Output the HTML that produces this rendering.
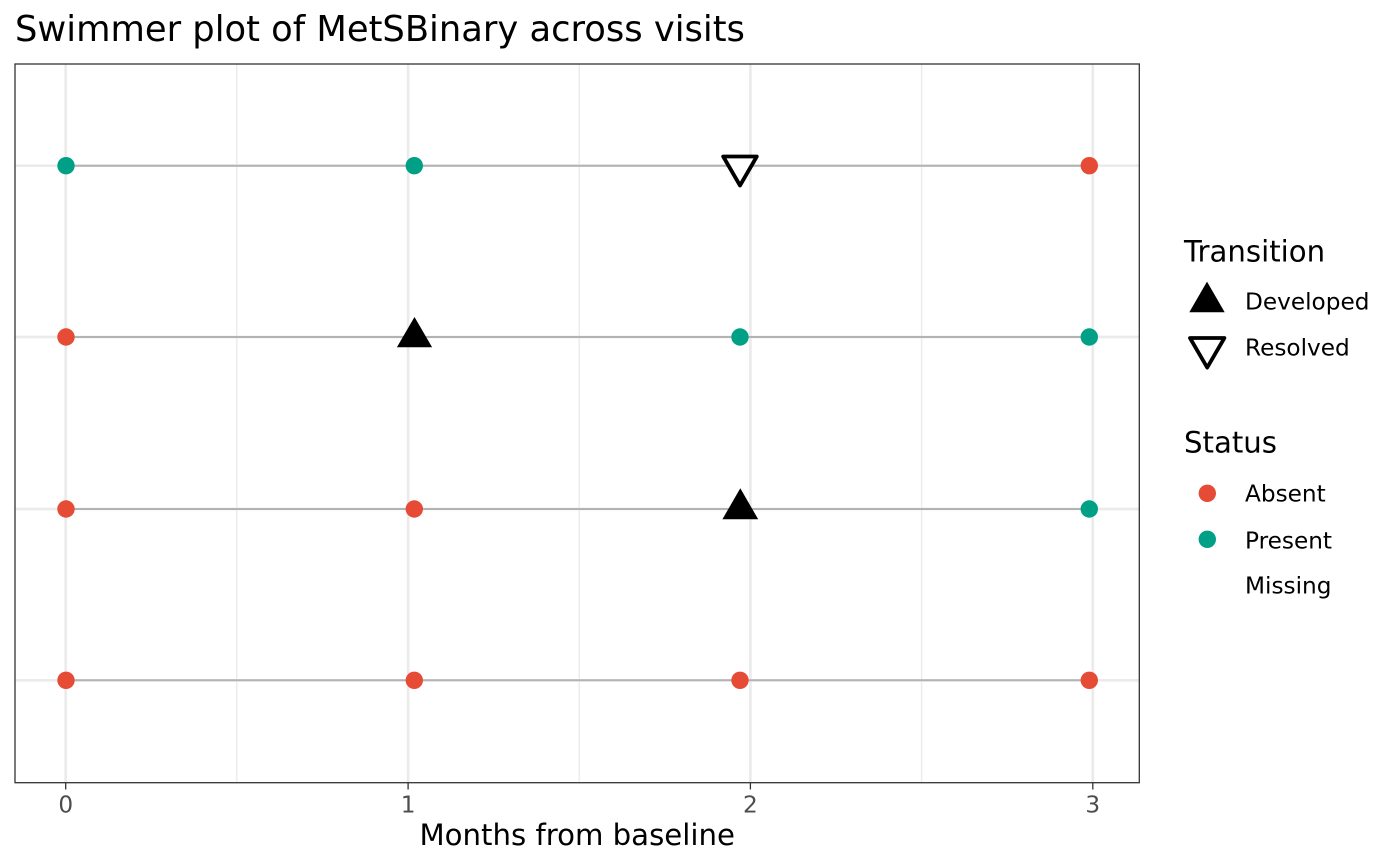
<!DOCTYPE html>
<html>
<head>
<meta charset="utf-8">
<style>
  html, body { margin: 0; padding: 0; background: #ffffff; }
  svg { display: block; }
  text { font-family: "DejaVu Sans", "Liberation Sans", sans-serif; }
</style>
</head>
<body>
<svg width="1400" height="866" viewBox="0 0 1400 866" xmlns="http://www.w3.org/2000/svg">
  <rect x="0" y="0" width="1400" height="866" fill="#ffffff"/>

  <!-- Title -->
  <text x="15" y="41" font-size="35.3" fill="#000000">Swimmer plot of MetSBinary across visits</text>

  <!-- Panel background -->
  <rect x="15" y="64" width="1124.3" height="718.7" fill="#ffffff"/>

  <!-- Minor vertical gridlines -->
  <g stroke="#EBEBEB" stroke-width="1.4">
    <line x1="236.8" y1="64" x2="236.8" y2="782.7"/>
    <line x1="579.2" y1="64" x2="579.2" y2="782.7"/>
    <line x1="921.6" y1="64" x2="921.6" y2="782.7"/>
  </g>
  <!-- Major gridlines -->
  <g stroke="#EBEBEB" stroke-width="2.7">
    <line x1="65.7" y1="64" x2="65.7" y2="782.7"/>
    <line x1="408.1" y1="64" x2="408.1" y2="782.7"/>
    <line x1="750.4" y1="64" x2="750.4" y2="782.7"/>
    <line x1="1092.8" y1="64" x2="1092.8" y2="782.7"/>
    <line x1="15" y1="165.7" x2="1139.3" y2="165.7"/>
    <line x1="15" y1="337" x2="1139.3" y2="337"/>
    <line x1="15" y1="509" x2="1139.3" y2="509"/>
    <line x1="15" y1="680.3" x2="1139.3" y2="680.3"/>
  </g>

  <!-- Swim lines -->
  <g stroke="#B3B3B3" stroke-width="2">
    <line x1="66" y1="165.7" x2="1089.3" y2="165.7"/>
    <line x1="66" y1="337" x2="1089.3" y2="337"/>
    <line x1="66" y1="509" x2="1089.3" y2="509"/>
    <line x1="66" y1="680.3" x2="1089.3" y2="680.3"/>
  </g>

  <!-- Row 1 -->
  <circle cx="66" cy="165.7" r="8.7" fill="#00A087"/>
  <circle cx="414.3" cy="165.7" r="8.7" fill="#00A087"/>
  <polygon points="723.2,156.5 756.8,156.5 740,185.5" fill="#ffffff" stroke="#000000" stroke-width="3.8" stroke-linejoin="round"/>
  <circle cx="1089.3" cy="165.7" r="8.7" fill="#E64B35"/>

  <!-- Row 2 -->
  <circle cx="66" cy="337" r="8.7" fill="#E64B35"/>
  <polygon points="414.5,317 396.9,347.3 432.1,347.3" fill="#000000"/>
  <circle cx="740" cy="337" r="8.7" fill="#00A087"/>
  <circle cx="1089.3" cy="337" r="8.7" fill="#00A087"/>

  <!-- Row 3 -->
  <circle cx="66" cy="509" r="8.7" fill="#E64B35"/>
  <circle cx="414.3" cy="509" r="8.7" fill="#E64B35"/>
  <polygon points="740.3,488.3 722.4,519.3 758.2,519.3" fill="#000000"/>
  <circle cx="1089.3" cy="509" r="8.7" fill="#00A087"/>

  <!-- Row 4 -->
  <circle cx="66" cy="680.3" r="8.7" fill="#E64B35"/>
  <circle cx="414.3" cy="680.3" r="8.7" fill="#E64B35"/>
  <circle cx="740" cy="680.3" r="8.7" fill="#E64B35"/>
  <circle cx="1089.3" cy="680.3" r="8.7" fill="#E64B35"/>

  <!-- Panel border -->
  <rect x="15" y="64" width="1124.3" height="718.7" fill="none" stroke="#333333" stroke-width="1.3"/>

  <!-- X ticks -->
  <g stroke="#333333" stroke-width="1.3">
    <line x1="65.7" y1="782.7" x2="65.7" y2="789.5"/>
    <line x1="408.1" y1="782.7" x2="408.1" y2="789.5"/>
    <line x1="750.4" y1="782.7" x2="750.4" y2="789.5"/>
    <line x1="1092.8" y1="782.7" x2="1092.8" y2="789.5"/>
  </g>
  <g font-size="23.2" fill="#4D4D4D" text-anchor="middle">
    <text x="65.7" y="812.7">0</text>
    <text x="408.1" y="812.7">1</text>
    <text x="750.4" y="812.7">2</text>
    <text x="1092.8" y="812.7">3</text>
  </g>

  <!-- X axis title -->
  <text x="577.2" y="845" font-size="29.2" fill="#000000" text-anchor="middle">Months from baseline</text>

  <!-- Legend: Transition -->
  <text x="1184" y="261.7" font-size="29.2" fill="#000000">Transition</text>
  <polygon points="1207,281.6 1189.3,312.3 1224.7,312.3" fill="#000000"/>
  <text x="1245" y="309.3" font-size="23.2" fill="#000000">Developed</text>
  <polygon points="1190,338 1224.4,338 1207.2,367.6" fill="#ffffff" stroke="#000000" stroke-width="3.8" stroke-linejoin="round"/>
  <text x="1245" y="355.7" font-size="23.2" fill="#000000">Resolved</text>

  <!-- Legend: Status -->
  <text x="1184" y="452.3" font-size="29.2" fill="#000000">Status</text>
  <circle cx="1207.3" cy="493.3" r="8.7" fill="#E64B35"/>
  <text x="1245" y="501.7" font-size="23.2" fill="#000000">Absent</text>
  <circle cx="1207.3" cy="539.3" r="8.7" fill="#00A087"/>
  <text x="1245" y="548.3" font-size="23.2" fill="#000000">Present</text>
  <text x="1245" y="593.5" font-size="23.2" fill="#000000">Missing</text>
</svg>
</body>
</html>
